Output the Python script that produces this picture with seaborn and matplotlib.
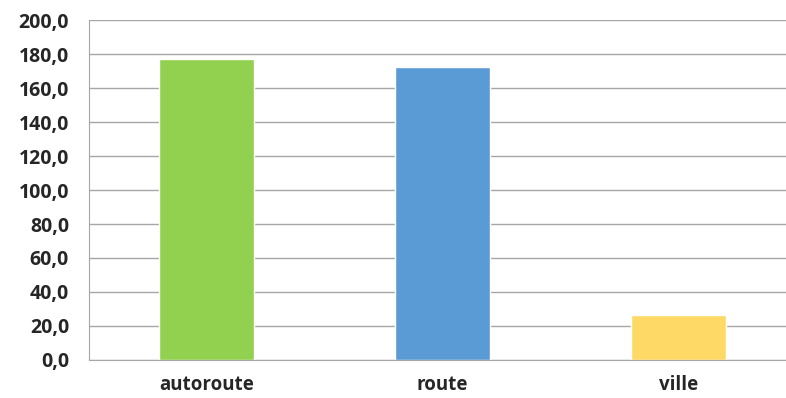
import matplotlib
matplotlib.use("Agg")
import matplotlib.pyplot as plt
import seaborn as sns
import pandas as pd
from matplotlib.ticker import FuncFormatter, FixedLocator

categories = ["autoroute", "route", "ville"]
values = [177.1, 172.4, 26.5]
colors = ["#92D050", "#5B9BD5", "#FFD966"]

df = pd.DataFrame({"type": categories, "valeur": values})

sns.set_style("white")
plt.rcParams["font.family"] = ["Open Sans", "DejaVu Sans"]
plt.rcParams["font.weight"] = "bold"

fig = plt.figure(figsize=(7.86, 3.98), dpi=100)
ax = fig.add_axes([0.1126, 0.0955, 1 - 0.1126, 0.8542])

sns.barplot(data=df, x="type", y="valeur", hue="type", palette=colors,
            width=0.4, legend=False, ax=ax, saturation=1)

ax.set_ylim(0, 200)
ax.set_xlim(-0.5, 2.455)
ax.set_yticks(range(0, 201, 20))
ax.yaxis.set_major_formatter(FuncFormatter(lambda v, p: f"{v:.1f}".replace(".", ",")))
ax.yaxis.grid(True, color="#A6A6A6", linewidth=1.0)
ax.set_axisbelow(True)
ax.set_xlabel("")
ax.set_ylabel("")

for s in ["top", "right"]:
    ax.spines[s].set_visible(False)
ax.spines["left"].set_color("#A6A6A6")
ax.spines["bottom"].set_color("#A6A6A6")

ax.tick_params(axis="y", length=5, color="#A6A6A6", width=1, pad=9, labelsize=14)
ax.tick_params(axis="x", length=0, pad=11, labelsize=13.5)
ax.xaxis.set_minor_locator(FixedLocator([-0.5, 0.5, 1.5]))
ax.tick_params(axis="x", which="minor", length=5, color="#A6A6A6", width=1)
for lab in ax.get_xticklabels() + ax.get_yticklabels():
    lab.set_fontweight("bold")

fig.savefig("out.png", dpi=100)
